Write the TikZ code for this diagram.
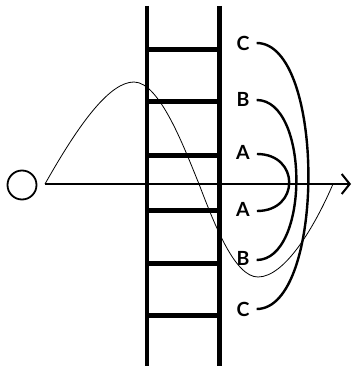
\documentclass[tikz,border=0pt]{standalone}
\usepackage{fontspec}
\setsansfont{Lato}
\usetikzlibrary{arrows.meta}
\tikzset{
  every picture/.style={font=\sffamily\bfseries},
  rail/.style={line width=4.5pt},
  rung/.style={line width=5pt},
  tag/.style={font=\sffamily\bfseries\fontsize{19.5}{19.5}\selectfont, inner xsep=7pt, inner ysep=1pt},
  link/.style={line width=2.4pt},
  wave/.style={line width=0.8pt},
  axis/.style={line width=2pt, -{Straight Barb[length=8pt, width=20pt]}},
}

\begin{document}
\begin{tikzpicture}[x=1pt, y=-1pt]
  \useasboundingbox (0,0) rectangle (352,366);
  % ladder
  \draw[rail] (147,6) -- (147,366);
  \draw[rail] (219.5,6) -- (219.5,366);
  \foreach \y in {50,102,155,210,263,315}
    \draw[rung] (147,\y) -- (219.5,\y);
  % origin and axis
  \node[draw, circle, line width=1.8pt, minimum size=29pt, inner sep=0pt] (orig) at (22,185) {};
  \coordinate (s0) at (45,184);
  \coordinate (tip) at (351,184);
  \draw[axis] (s0) -- (tip);
  % wave
  \coordinate (w1) at (134,82);
  \coordinate (w2) at (199,184);
  \coordinate (w3) at (258,277);
  \coordinate (w4) at (333,184);
  \draw[wave] (s0) .. controls (80,122) and (110,82) .. (w1)
    .. controls (160,82) and (185,150) .. (w2)
    .. controls (215,226) and (235,277) .. (w3)
    .. controls (285,277) and (315,226) .. (w4);
  % labels, paired by arcs
  \foreach \n/\t/\y in {c1/C/43, b1/B/99, a1/A/152, a2/A/209, b2/B/258, c2/C/309}
    \node[tag] (\n) at (243,\y) {\t};
  \draw[link] ([yshift=-2pt]a1.east) .. controls +(43,0) and +(43,0) .. ([yshift=-2pt]a2.east);
  \draw[link] ([yshift=-1pt]b1.east) .. controls +(53,0) and +(53,0) .. ([yshift=-2pt]b2.east);
  \draw[link] (c1.east) .. controls +(69,0) and +(69,0) .. (c2.east);
\end{tikzpicture}
\end{document}
